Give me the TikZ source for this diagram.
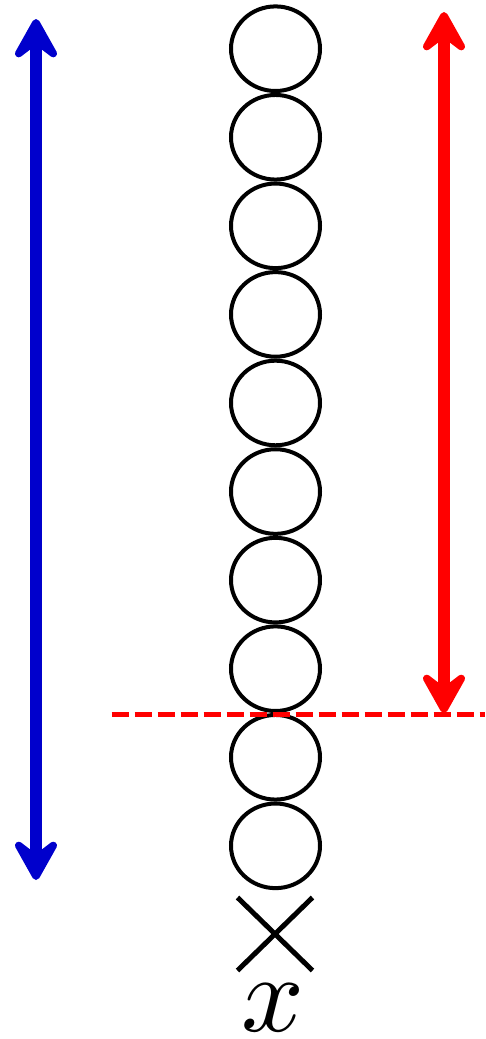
\documentclass[tikz,border=0pt]{standalone}
\usetikzlibrary{arrows.meta,shapes.geometric,shapes.misc}
\definecolor{myblue}{HTML}{0000CC}
\definecolor{myred}{HTML}{FF0000}
\begin{document}
\begin{tikzpicture}[x=1pt,y=-1pt,
  ball/.style={draw=black,line width=4pt,ellipse,inner sep=0pt,minimum width=89pt,minimum height=84.6pt},
  bigarrow/.style={line width=12pt,{Stealth[length=52pt,width=58pt,inset=22pt,round]}-{Stealth[length=52pt,width=58pt,inset=22pt,round]}},
  markcross/.style={draw=black,line width=5pt,cross out,inner sep=0pt,minimum width=70pt,minimum height=68pt},
  level/.style={draw=myred,line width=5pt,dash pattern=on 17pt off 6pt}]
\useasboundingbox (0,0) rectangle (485,1039);
\foreach \i in {1,...,10} {
  \node[ball] (c\i) at (275.5,{48.7+88.57*(\i-1)}) {};
}
\coordinate (bt) at (36,19);
\coordinate (bb) at (36,880);
\draw[bigarrow,draw=myblue,fill=myblue] (bt) -- (bb);
\coordinate (rt) at (444,12);
\coordinate (rb) at (444,713);
\draw[bigarrow,draw=myred,fill=myred] (rt) -- (rb);
\coordinate (dl) at (111.5,714);
\coordinate (dr) at (485,714);
\draw[level] (dl) -- (dr);
\node[markcross] (cross) at (275,934) {};
\node[inner sep=0pt] (lbl) at (273,1008) {\scalebox{11}{$x$}};
\end{tikzpicture}
\end{document}
